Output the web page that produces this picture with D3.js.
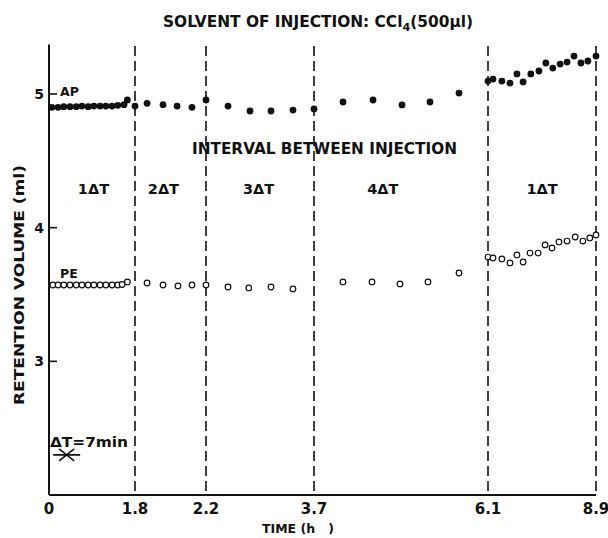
<!DOCTYPE html>
<html>
<head>
<meta charset="utf-8">
<script src="https://cdn.jsdelivr.net/npm/d3@7"></script>
<style>
  body { margin: 0; background: #fff; }
  text { font-family: "DejaVu Sans", sans-serif; font-weight: bold; fill: #111; }
</style>
</head>
<body>
<div id="chart"></div>
<script>
// time axis is not to scale in the original, so the scale is piecewise
var xBreaks = [0, 1.8, 2.2, 3.7, 6.1, 8.9];
var xTickLabels = ["0", "1.8", "2.2", "3.7", "6.1", "8.9"];
var yTicks = [3, 4, 5];
var dashedAt = [1.8, 2.2, 3.7, 6.1, 8.9];

var intervalLabels = ["1\u0394T", "2\u0394T", "3\u0394T", "4\u0394T", "1\u0394T"];
var intervalMid = [0.93, 1.96, 2.93, 4.65, 7.5];

var apTime = [0.06, 0.19, 0.31, 0.44, 0.57, 0.69, 0.82, 0.94, 1.07, 1.19, 1.32, 1.44, 1.57, 1.64, 1.8,
              1.868, 1.958, 2.037, 2.121, 2.2,
              2.506, 2.811, 3.103, 3.408, 3.7,
              4.1, 4.514, 4.914, 5.3, 5.7,
              6.1, 6.23, 6.46, 6.67, 6.85, 7.01, 7.21, 7.42, 7.6, 7.78, 7.97, 8.15, 8.33, 8.51, 8.69, 8.9];
var apVol = [4.90, 4.90, 4.905, 4.905, 4.905, 4.91, 4.905, 4.91, 4.91, 4.91, 4.91, 4.915, 4.92, 4.955, 4.91,
             4.93, 4.92, 4.91, 4.90, 4.955,
             4.91, 4.873, 4.873, 4.88, 4.888,
             4.94, 4.955, 4.918, 4.94, 5.007,
             5.097, 5.112, 5.097, 5.082, 5.15, 5.09, 5.15, 5.172, 5.232, 5.194, 5.224, 5.239, 5.284, 5.232, 5.247, 5.284];

var peTime = [0.08, 0.19, 0.31, 0.44, 0.57, 0.69, 0.82, 0.94, 1.07, 1.19, 1.32, 1.44, 1.53, 1.64,
              1.868, 1.958, 2.042, 2.121, 2.2,
              2.506, 2.794, 3.103, 3.408,
              4.1, 4.5, 4.886, 5.272, 5.7,
              6.1, 6.23, 6.46, 6.67, 6.85, 7.01, 7.19, 7.4, 7.58, 7.76, 7.94, 8.15, 8.36, 8.56, 8.74, 8.9];
var peVol = [3.571, 3.571, 3.571, 3.571, 3.571, 3.571, 3.571, 3.571, 3.571, 3.571, 3.571, 3.571, 3.575, 3.594,
             3.586, 3.571, 3.564, 3.571, 3.571,
             3.556, 3.549, 3.556, 3.542,
             3.594, 3.594, 3.579, 3.594, 3.661,
             3.78, 3.773, 3.766, 3.736, 3.796, 3.743, 3.81, 3.81, 3.871, 3.848, 3.893, 3.90, 3.93, 3.90, 3.923, 3.945];

var width = 608, height = 538;

var x = d3.scaleLinear()
  .domain(xBreaks)
  .range([49, 135, 206, 314, 488, 596]);

var y = d3.scaleLinear()
  .domain([2, 5])
  .range([495, 94]);

var svg = d3.select("#chart")
  .append("svg")
  .attr("width", width)
  .attr("height", height);

// title
var title = svg.append("text")
  .attr("x", 163)
  .attr("y", 27)
  .attr("textLength", 310)
  .attr("lengthAdjust", "spacingAndGlyphs")
  .style("font-size", "15px");
title.append("tspan").text("SOLVENT OF INJECTION: CCl");
title.append("tspan").attr("dy", 4).style("font-size", "11px").text("4");
title.append("tspan").attr("dy", -4).text("(500\u03bcl)");

// dashed separators
svg.selectAll("line.sep")
  .data(dashedAt)
  .enter()
  .append("line")
  .attr("class", "sep")
  .attr("x1", function(d) { return x(d); })
  .attr("x2", function(d) { return x(d); })
  .attr("y1", y(5.36))
  .attr("y2", y(2))
  .attr("stroke", "#111")
  .attr("stroke-width", 1.6)
  .attr("stroke-dasharray", "10, 5");

// axes lines
svg.append("line")
  .attr("x1", x(0)).attr("x2", x(0))
  .attr("y1", y(5.37)).attr("y2", y(2))
  .attr("stroke", "#111")
  .attr("stroke-width", 2);

svg.append("line")
  .attr("x1", x(0)).attr("x2", x(8.9))
  .attr("y1", y(2)).attr("y2", y(2))
  .attr("stroke", "#111")
  .attr("stroke-width", 2);

// y ticks (inward) + labels
svg.selectAll("line.ytick")
  .data(yTicks)
  .enter()
  .append("line")
  .attr("class", "ytick")
  .attr("x1", x(0)).attr("x2", x(0) + 8)
  .attr("y1", function(d) { return y(d); })
  .attr("y2", function(d) { return y(d); })
  .attr("stroke", "#111")
  .attr("stroke-width", 1.6);

svg.selectAll("text.ylab")
  .data(yTicks)
  .enter()
  .append("text")
  .attr("class", "ylab")
  .attr("x", x(0) - 5)
  .attr("y", function(d) { return y(d) + 5; })
  .attr("text-anchor", "end")
  .style("font-size", "14px")
  .text(function(d) { return d; });

// x tick labels
svg.selectAll("text.xlab")
  .data(xBreaks)
  .enter()
  .append("text")
  .attr("class", "xlab")
  .attr("x", function(d) { return x(d); })
  .attr("y", 514)
  .attr("text-anchor", "middle")
  .style("font-size", "15px")
  .text(function(d, i) { return xTickLabels[i]; });

svg.append("text")
  .attr("x", 262)
  .attr("y", 533)
  .style("font-size", "12.5px")
  .attr("xml:space", "preserve")
  .text("TIME (h   )");

svg.append("text")
  .attr("transform", "translate(24,405) rotate(-90)")
  .attr("textLength", 240)
  .attr("lengthAdjust", "spacingAndGlyphs")
  .style("font-size", "14px")
  .text("RETENTION VOLUME (ml)");

// annotations
svg.append("text")
  .attr("x", 192)
  .attr("y", 154)
  .attr("textLength", 265)
  .attr("lengthAdjust", "spacingAndGlyphs")
  .style("font-size", "15.5px")
  .text("INTERVAL BETWEEN INJECTION");

svg.selectAll("text.ivl")
  .data(intervalLabels)
  .enter()
  .append("text")
  .attr("class", "ivl")
  .attr("x", function(d, i) { return x(intervalMid[i]); })
  .attr("y", 194)
  .attr("text-anchor", "middle")
  .style("font-size", "14.5px")
  .text(function(d) { return d; });

svg.append("text")
  .attr("x", 60).attr("y", 96)
  .style("font-size", "12.5px")
  .text("AP");

svg.append("text")
  .attr("x", 60).attr("y", 278)
  .style("font-size", "12.5px")
  .text("PE");

svg.append("text")
  .attr("x", 50).attr("y", 447)
  .attr("textLength", 78)
  .attr("lengthAdjust", "spacingAndGlyphs")
  .style("font-size", "14px")
  .text("\u0394T=7min");

// the little interval marker under the ΔT note
var mx = x(0.38), my = y(2.3);
svg.append("path")
  .attr("d", "M" + (mx - 14) + "," + my + "H" + (mx + 13) +
             "M" + (mx - 8) + "," + (my - 6) + "L" + (mx + 7) + "," + (my + 6) +
             "M" + (mx - 8) + "," + (my + 6) + "L" + (mx + 7) + "," + (my - 6))
  .attr("stroke", "#111")
  .attr("stroke-width", 1.6)
  .attr("fill", "none");

// data points
svg.selectAll("circle.ap")
  .data(apTime)
  .enter()
  .append("circle")
  .attr("class", "ap")
  .attr("cx", function(d) { return x(d); })
  .attr("cy", function(d, i) { return y(apVol[i]); })
  .attr("r", 3.4)
  .attr("fill", "#111");

svg.selectAll("circle.pe")
  .data(peTime)
  .enter()
  .append("circle")
  .attr("class", "pe")
  .attr("cx", function(d) { return x(d); })
  .attr("cy", function(d, i) { return y(peVol[i]); })
  .attr("r", 2.8)
  .attr("fill", "#fff")
  .attr("stroke", "#111")
  .attr("stroke-width", 1.2);
</script>
</body>
</html>
